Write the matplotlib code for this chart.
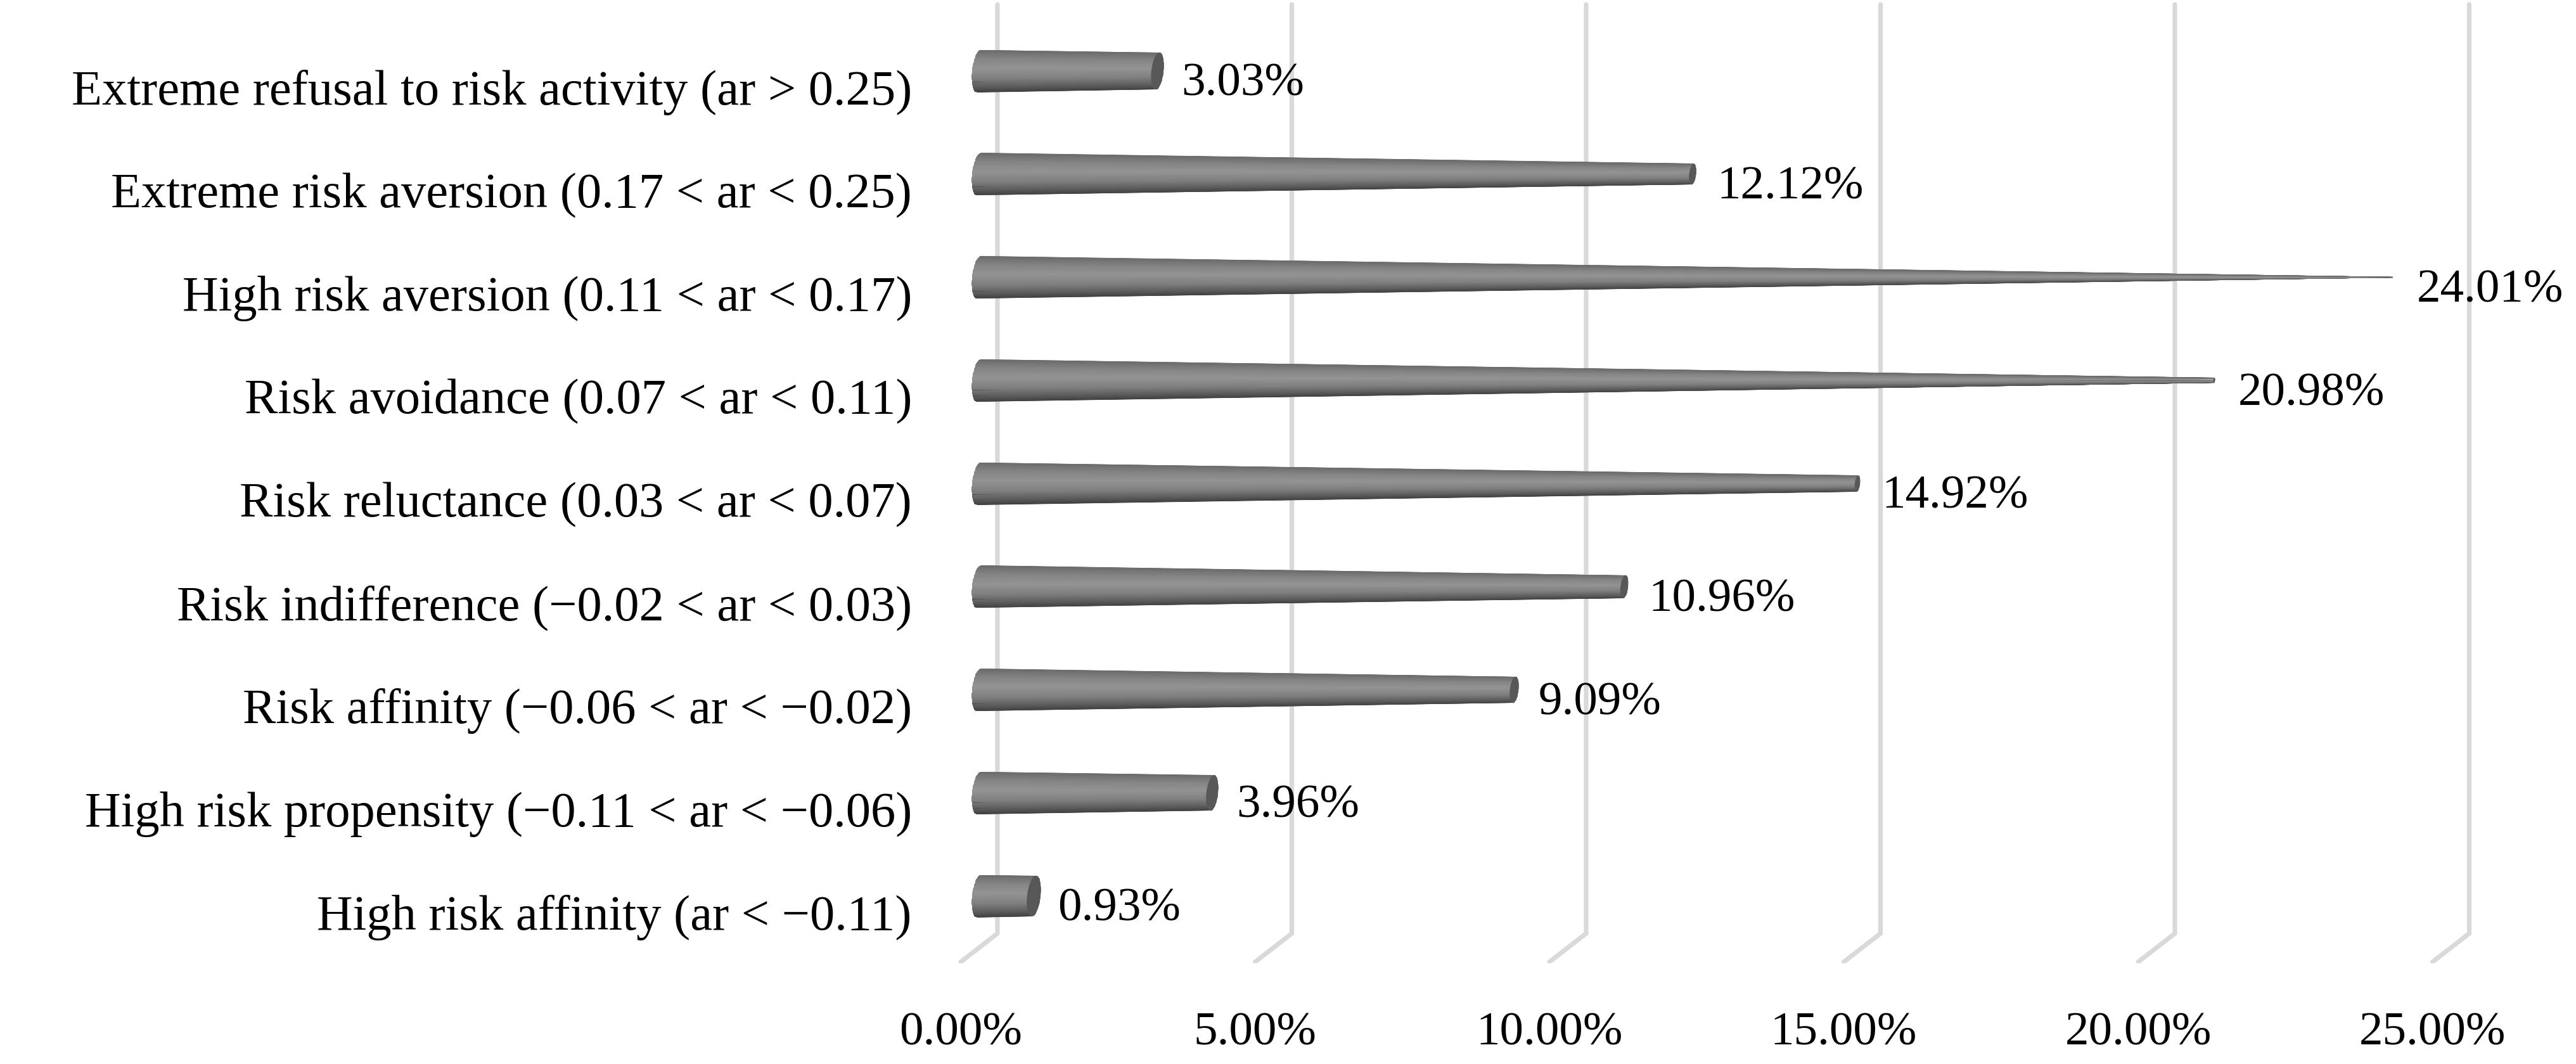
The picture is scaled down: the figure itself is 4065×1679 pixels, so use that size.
import numpy as np
import matplotlib
matplotlib.use("Agg")
import matplotlib.pyplot as plt
from matplotlib.patches import Polygon
from matplotlib.transforms import ScaledTranslation

# bottom to top, same order as the barh y axis
categories = [
    "High risk affinity (ar < \u22120.11)",
    "High risk propensity (\u22120.11 < ar < \u22120.06)",
    "Risk affinity (\u22120.06 < ar < \u22120.02)",
    "Risk indifference (\u22120.02 < ar < 0.03)",
    "Risk reluctance (0.03 < ar < 0.07)",
    "Risk avoidance (0.07 < ar < 0.11)",
    "High risk aversion (0.11 < ar < 0.17)",
    "Extreme risk aversion (0.17 < ar < 0.25)",
    "Extreme refusal to risk activity (ar > 0.25)",
]
values = [0.93, 3.96, 9.09, 10.96, 14.92, 20.98, 24.01, 12.12, 3.03]
x_ticks = [0, 5, 10, 15, 20, 25]
x_tick_labels = ["0.00%", "5.00%", "10.00%", "15.00%", "20.00%", "25.00%"]

W, H, DPI = 4065, 1679, 100
PX_PER_PCT = 92.9     # pixels per percent
X0_PX, Y0_PX = 1545, 1414   # pixel of value 0, lowest category
ROW_PX = 162.75

# layout of the axes box, in figure pixels (y from top)
L, R, T, B = 1456, 3960, 0, 1520

plt.rcParams["font.family"] = ["Liberation Serif", "DejaVu Serif"]
FS = 54
FS_CAT = 56.5   # Liberation runs narrower than the original face on long labels
GRID = "#d9d9d9"

fig = plt.figure(figsize=(W / DPI, H / DPI), dpi=DPI, facecolor="white")
ax = fig.add_axes([L / W, 1 - B / H, (R - L) / W, (B - T) / H])
ax.set_xlim((L - X0_PX) / PX_PER_PCT, (R - X0_PX) / PX_PER_PCT)
ax.set_ylim((Y0_PX - B) / ROW_PX, (Y0_PX - T) / ROW_PX)
for s in ax.spines.values():
    s.set_visible(False)

# walls of the 3D box: vertical line on back wall + short diagonal on the floor
depth = 29 / PX_PER_PCT
y_back = (Y0_PX - 1473) / ROW_PX
y_front = (Y0_PX - 1518) / ROW_PX
y_top = (Y0_PX - 7) / ROW_PX
for v in x_ticks:
    ax.plot([v + depth, v + depth, v - depth], [y_top, y_back, y_front],
            color=GRID, lw=5.2, solid_joinstyle="miter", solid_capstyle="round", zorder=1)

# cone bars
r0 = 33.5 / ROW_PX
vmax = max(values)
a_ratio = 0.33 * 33.5 / PX_PER_PCT   # half width of base ellipse, in percent
shear = 3.5 / PX_PER_PCT
stops_s = [-1.0, -0.75, -0.35, 0.15, 0.6, 1.0]     # bottom to top
stops_c = [0.25, 0.36, 0.50, 0.58, 0.52, 0.42]


def ellipse(cx, cy, frac, t):
    x = cx + a_ratio * frac * np.cos(t) + shear * frac * np.sin(t)
    y = cy + r0 * frac * np.sin(t)
    return x, y


for i, v in enumerate(values):
    frac = max(1 - v / vmax, 0.004)
    t_left = np.linspace(np.pi / 2, 3 * np.pi / 2, 40)
    t_right = np.linspace(-np.pi / 2, np.pi / 2, 30)
    xl, yl = ellipse(0, i, 1.0, t_left)
    xr, yr = ellipse(v, i, frac, t_right)
    outline = Polygon(np.column_stack([np.r_[xl, xr], np.r_[yl, yr]]), closed=True,
                      transform=ax.transData, facecolor="none", edgecolor="none")
    ax.add_patch(outline)

    # gradient follows the taper of the cone
    s = np.linspace(-1, 1, 61)
    xs = np.array([-0.3, v + 0.3])
    fr = np.maximum(1 - xs / vmax, 0.004)
    X, S = np.meshgrid(xs, s)
    Y = i + S * r0 * np.outer(np.ones_like(s), fr)
    C = np.interp(S, stops_s, stops_c)
    mesh = ax.pcolormesh(X, Y, C, shading="gouraud", cmap="gray", vmin=0, vmax=1, zorder=2)
    mesh.set_clip_path(outline)

    xc, yc = ellipse(v, i, frac, np.linspace(0, 2 * np.pi, 60))
    ax.add_patch(Polygon(np.column_stack([xc, yc]), closed=True, facecolor="#585858",
                         edgecolor="none", zorder=3))

    ax.annotate(f"{v:.2f}%", (v, i), xytext=(38 * 72 / DPI, -21 * 72 / DPI),
                textcoords="offset points", ha="left", va="center",
                fontsize=FS, color="black", zorder=4)

ax.set_yticks(range(len(categories)))
ax.set_yticklabels(categories, fontsize=FS_CAT)
ax.set_xticks(x_ticks)
ax.set_xticklabels(x_tick_labels, fontsize=FS)
ax.tick_params(axis="both", length=0)
ax.tick_params(axis="y", pad=17 * 72 / DPI)
ax.tick_params(axis="x", pad=77 * 72 / DPI)

# labels sit off the tick positions because of the fake depth
dy = ScaledTranslation(0, -25 / DPI, fig.dpi_scale_trans)
for lab in ax.get_yticklabels():
    lab.set_transform(lab.get_transform() + dy)
dx = ScaledTranslation(-29 / DPI, 0, fig.dpi_scale_trans)
for lab in ax.get_xticklabels():
    lab.set_transform(lab.get_transform() + dx)

fig.savefig("out.png", dpi=DPI, facecolor="white")
